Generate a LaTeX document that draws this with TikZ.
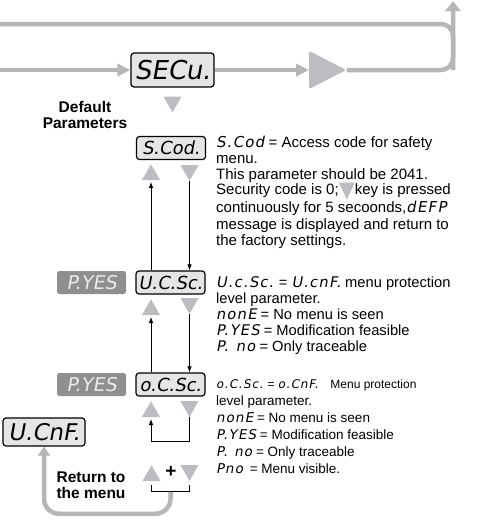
\documentclass[tikz,border=0pt]{standalone}
\usepackage{fontspec}
\setmainfont{Liberation Sans}
\newfontfamily\segfont{DejaVu Sans}[FakeSlant=0.18]
\newfontfamily\symfont{DejaVu Sans}
\usetikzlibrary{positioning,shapes.geometric,arrows.meta}

\definecolor{keygray}{HTML}{BCBDC0}
\definecolor{flowgray}{HTML}{B5B6B8}
\definecolor{panelgray}{HTML}{8E8F91}

\newcommand\seg[1]{{\segfont\addfontfeature{LetterSpace=8}#1}}
\newcommand\keymark{\raisebox{-3pt}{\textcolor{keygray}{\symfont\scalebox{1.4}[1.5]{▼}}}}

\tikzset{
  display/.style={draw, line width=1.2pt, rounded corners=3pt, fill=black!10, inner sep=0pt,
    minimum width=69pt, minimum height=23pt, font=\segfont\fontsize{18}{18}\selectfont},
  panel/.style={fill=panelgray, text=black!8, rounded corners=2.5pt, inner sep=0pt,
    minimum width=69pt, minimum height=23pt, font=\segfont\fontsize{19}{19}\selectfont},
  keyup/.style={regular polygon, regular polygon sides=3, fill=keygray,
    minimum size=21pt, inner sep=0pt, outer sep=0pt},
  keydown/.style={keyup, shape border rotate=180},
  flow/.style={draw=flowgray, line width=4.5pt},
  wire/.style={line width=0.8pt},
  note/.style={anchor=north west, align=left, inner sep=0pt},
  label/.style={align=center, font=\bfseries\fontsize{15.5}{16.5}\selectfont},
}

\begin{document}
\begin{tikzpicture}[x=1pt, y=-1pt, >={Latex[length=6pt,width=4.5pt]}]
  \useasboundingbox (0,0) rectangle (495,525);

  % main loop
  \coordinate (enter) at (0,70);
  \coordinate (back) at (0,24);
  \coordinate (exit) at (453,1);

  \node[display, minimum width=83pt, minimum height=34pt,
        font=\segfont\fontsize{26}{26}\selectfont] (secu) at (172.5,70) {SECu.};
  \node[isosceles triangle, isosceles triangle stretches, minimum width=38pt, minimum height=37pt,
        inner sep=0pt, fill=keygray, rounded corners=2pt, anchor=west] (go) at (309,70) {};

  \draw[flow, rounded corners=12pt] (back) -| (exit |- go.east);
  \draw[flow, -{Triangle[length=13pt,width=12pt]}] (enter) -- (secu.west);
  \draw[flow, -{Triangle[length=13pt,width=12pt]}] (secu.east) -- (go.west);
  \draw[flow, rounded corners=12pt, -{Triangle[length=10pt,width=15pt]}] (go.east) -| (exit);

  \node[keydown, below=9pt of secu] (secukey) {};
  \node[label] (dflt) at (85,115) {Default\\Parameters};

  % displays
  \node[display] (bcod) at (171,148) {S.Cod.};
  \node[display] (ucsc) at (170.5,282.5) {U.C.Sc.};
  \node[display] (ocsc) at (170.5,384.5) {o.C.Sc.};
  \node[panel] (pyesA) at (91.5,282.5) {P.YES};
  \node[panel] (pyesB) at (91.5,384.5) {P.YES};
  \node[display, minimum width=82pt, minimum height=28pt,
        font=\segfont\fontsize{23}{23}\selectfont] (ucnf) at (44,432) {U.CnF.};

  % keys
  \node[keyup, anchor=south] (upA) at (151,180) {};
  \node[keydown, anchor=north] (dnA) at (189.5,165) {};
  \node[keyup, anchor=south] (upB) at (151,315) {};
  \node[keydown, anchor=north] (dnB) at (189.5,298) {};
  \node[keyup, anchor=south] (upC) at (151,417) {};
  \node[keydown, anchor=north] (dnC) at (189.5,401) {};
  \node[keyup, anchor=south] (upD) at (151.5,481) {};
  \node[keydown, anchor=north] (dnD) at (189.5,465) {};
  \node[font=\bfseries\fontsize{19}{19}\selectfont] (plus) at (171,472) {+};

  \draw[wire, ->, shorten >=2pt] (ucsc.north -| upA.south) -- (upA.south);
  \draw[wire, ->] (dnA.south) -- (dnA.south |- ucsc.north);
  \draw[wire, ->, shorten >=2pt] (ocsc.north -| upB.south) -- (upB.south);
  \draw[wire, ->] (dnB.south) -- (dnB.south |- ocsc.north);
  \draw[wire, ->, shorten >=2pt] (dnC.south) -- ++(0,25) -| (upC.south);

  % return to the menu
  \draw[wire] ([yshift=-4pt]upD.south) |- coordinate[pos=0.75] (retbr) ([yshift=-11pt]dnD.south)
    -- ([yshift=-4pt]dnD.south);
  \draw[flow, rounded corners=15pt, -{Triangle[length=9pt,width=12pt]}] (retbr) -- ++(0,22) -| (ucnf.south);
  \node[label, align=left, anchor=east] (rtn) at (129,485) {Return to\\the menu};

  % notes
  \node[note, font=\fontsize{15}{15.7}\selectfont] (codenote) at (216,136)
    {\seg{S.Cod} = Access code for safety\\menu.\\This parameter should be 2041.\\
     Security code is 0;\keymark key is pressed\\continuously for 5 secoonds,\seg{dEFP}\\[1.3pt]
     message is displayed and return to\\the factory settings.};
  \node[note, font=\fontsize{14.7}{16.2}\selectfont] (ucnote) at (216,276)
    {\seg{U.c.Sc.} = \seg{U.cnF.} menu protection\\level parameter.\\
     \seg{nonE} = No menu is seen\\\seg{P.YES} = Modification feasible\\
     \seg{P.\enspace no} = Only traceable};
  \node[note, font=\fontsize{13.5}{17}\selectfont] (ocnote) at (216,379)
    {{\fontsize{12}{17}\selectfont\seg{o.C.Sc.} = \seg{o.CnF.}\quad Menu protection}\\level parameter.\\
     \seg{nonE} = No menu is seen\\\seg{P.YES} = Modification feasible\\
     \seg{P.\enspace no} = Only traceable\\\seg{Pno}\enspace = Menu visible.};
\end{tikzpicture}
\end{document}
